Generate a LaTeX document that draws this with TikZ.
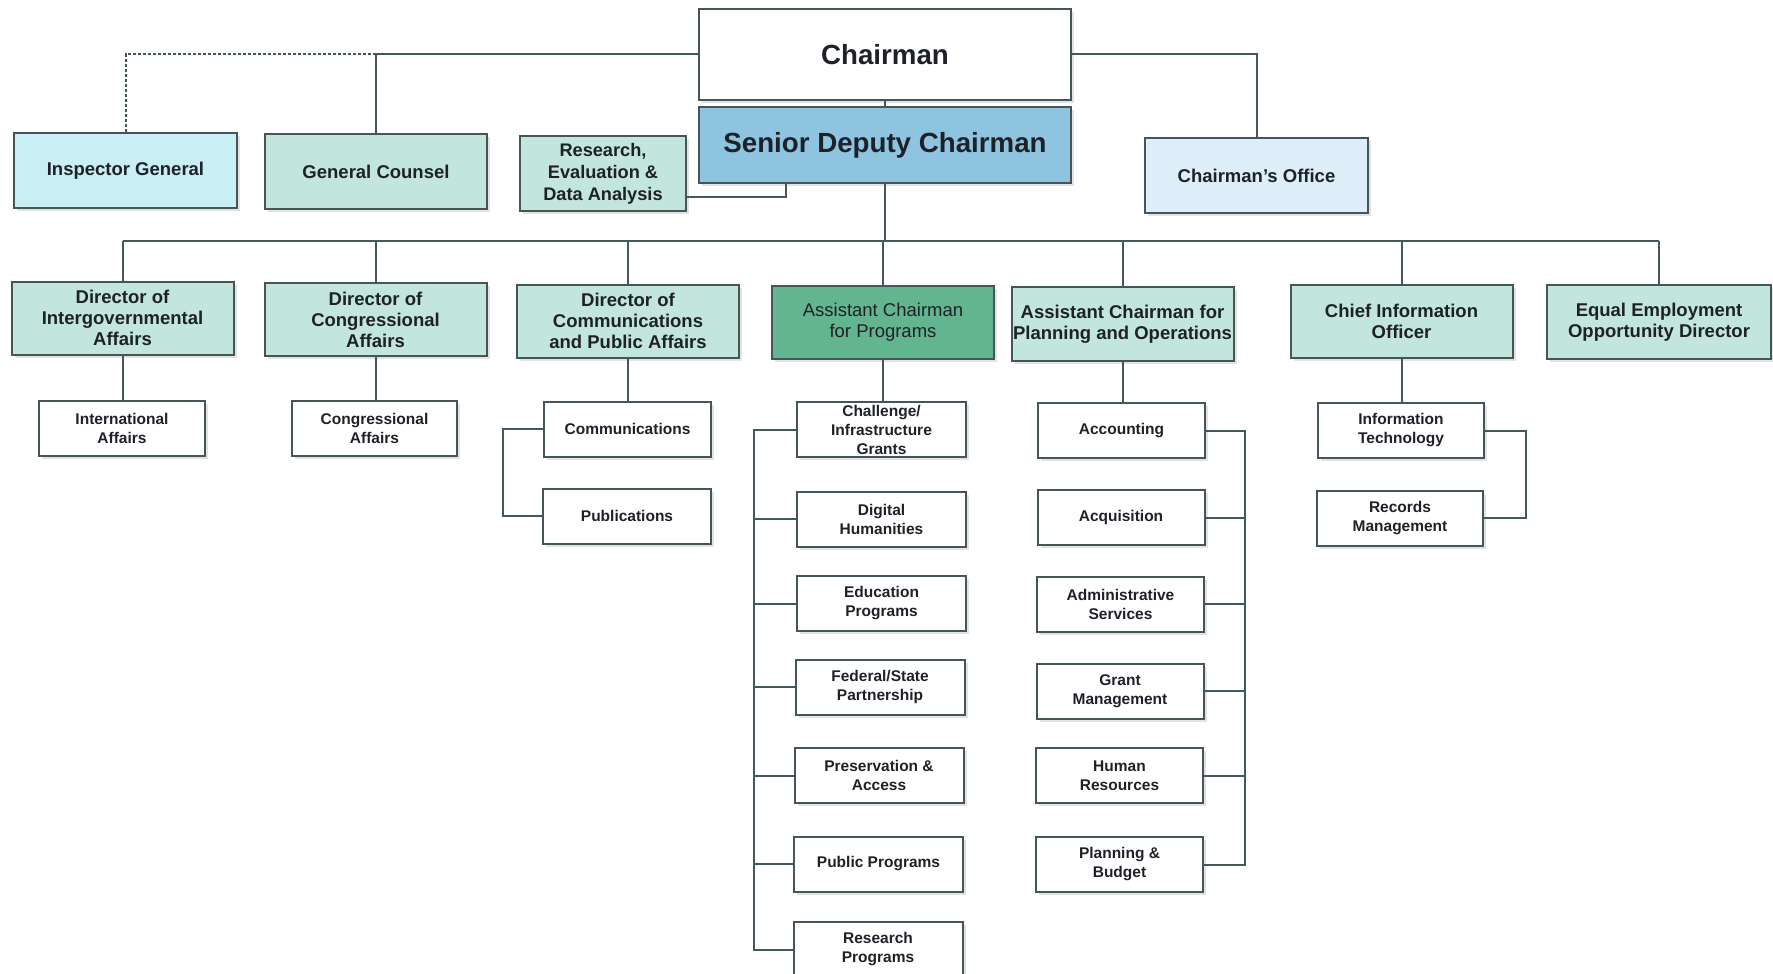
\documentclass[tikz,border=0pt]{standalone}
\usepackage{fontspec}
\setmainfont{Liberation Sans}
\usetikzlibrary{shadows,calc}
\definecolor{lnc}{HTML}{42595A}
\definecolor{bdc}{HTML}{45555A}
\definecolor{txc}{HTML}{1E2228}
\definecolor{sdcblue}{HTML}{8EC4E0}
\definecolor{igcyan}{HTML}{C9EEF4}
\definecolor{tealbox}{HTML}{C2E6DC}
\definecolor{cofill}{HTML}{DDEEF8}
\definecolor{progreen}{HTML}{62B58E}
\tikzset{
  box/.style={draw=bdc, line width=1pt, inner sep=0pt, align=center, text=txc,
    drop shadow={shadow xshift=1.5pt, shadow yshift=-1.5pt, opacity=0.22, fill=gray}},
  topbox/.style={box, font=\fontsize{13.85pt}{16pt}\selectfont\bfseries},
  midbox/.style={box, font=\fontsize{9.25pt}{10.5pt}\selectfont\bfseries},
  smallbox/.style={box, fill=white, font=\fontsize{7.75pt}{9.5pt}\selectfont\bfseries,
    minimum height=27.5pt},
  lvltwo/.style={midbox, fill=tealbox, minimum width=111pt, minimum height=36.5pt},
  conn/.style={draw=lnc, line width=1pt},
}
\begin{document}
\begin{tikzpicture}[x=0.5pt, y=-0.5pt]
\useasboundingbox[fill=white] (0,0) rectangle (1773,974);

% top level
\node[topbox, fill=white, minimum width=186pt, minimum height=45.5pt] (chair) at (885,54.5) {Chairman};
\node[topbox, fill=sdcblue, minimum width=186pt, minimum height=38pt] (sdc) at (885,145) {\raisebox{-1.5pt}{Senior Deputy Chairman}};
\node[midbox, fill=igcyan, minimum width=111.5pt, minimum height=37.5pt] (ig) at (125.5,170.5) {Inspector General};
\node[midbox, fill=tealbox, minimum width=111pt, minimum height=37.5pt] (gc) at (376,171.5) {General Counsel};
\node[midbox, fill=tealbox, minimum width=83pt, minimum height=37pt, font=\fontsize{9.1pt}{11pt}\selectfont\bfseries] (res) at (603,173.5) {Research,\\Evaluation \&\\Data Analysis};
\node[midbox, fill=cofill, minimum width=111.5pt, minimum height=37.5pt] (co) at (1256.5,175.5) {Chairman’s Office};

% level two
\node[lvltwo] (dia) at (122.5,318) {Director of\\Intergovernmental\\Affairs};
\node[lvltwo] (dca) at (375.5,319.5) {Director of\\Congressional\\Affairs};
\node[lvltwo] (dcpa) at (628,321) {Director of\\Communications\\and Public Affairs};
\node[lvltwo, fill=progreen, font=\fontsize{9.25pt}{10.5pt}\selectfont] (acp) at (883,322) {Assistant Chairman\\for Programs};
\node[lvltwo, minimum height=37pt] (acpo) at (1122.5,324) {Assistant Chairman for\\Planning and Operations};
\node[lvltwo] (cio) at (1401.5,321.5) {Chief Information\\Officer};
\node[lvltwo, minimum width=112pt, minimum height=37pt] (eeo) at (1659,322) {Equal Employment\\Opportunity Director};

% level three
\node[smallbox, minimum width=83pt] (ia) at (122,428) {International\\Affairs};
\node[smallbox, minimum width=82.5pt] (ca) at (374.5,428.5) {Congressional\\Affairs};
\node[smallbox, minimum width=83.5pt] (comm) at (627.5,429) {Communications};
\node[smallbox, minimum width=84pt] (pub) at (627,516) {Publications};

\begin{scope}[every node/.style={smallbox, minimum width=84.5pt}]
\node (chal) at (881.5,429.5) {Challenge/\\Infrastructure\\Grants};
\node (dh) at (881.5,519) {Digital\\Humanities};
\node (edu) at (881.5,603.5) {Education\\Programs};
\node (fs) at (880,687) {Federal/State\\Partnership};
\node (pa) at (879,775.5) {Preservation \&\\Access};
\node (pp) at (878.5,864) {Public Programs};
\node (rp) at (878,949.5) {Research\\Programs};
\end{scope}

\begin{scope}[every node/.style={smallbox, minimum width=83.5pt}]
\node (acc) at (1121.5,430.5) {Accounting};
\node (acq) at (1121,517.5) {Acquisition};
\node (adm) at (1120.5,604) {Administrative\\Services};
\node (gm) at (1120,691) {Grant\\Management};
\node (hr) at (1119.5,775.5) {Human\\Resources};
\node (pbud) at (1119.5,864.5) {Planning \&\\Budget};
\end{scope}

\node[smallbox, minimum width=83pt] (it) at (1401,430.5) {Information\\Technology};
\node[smallbox, minimum width=83pt] (rm) at (1400,518) {Records\\Management};

% connectors: top
\coordinate (bus) at (0,241);
\coordinate (cbx) at (503,0);
\coordinate (pbx) at (754,0);
\coordinate (obx) at (1245,0);
\coordinate (ibx) at (1526,0);

\draw[conn] (chair.west) -| (gc.north);
\draw[conn, dash pattern=on 1.5pt off 1pt] (gc.north |- chair.west) -| (ig.north);
\draw[conn] (chair.east) -| (co.north);
\draw[conn] (chair.south) -- (sdc.north);
\draw[conn] ($(res.east)+(0,23)$) -| ([xshift=-49.5pt]sdc.south);
\draw[conn] (sdc.south) -- (sdc.south |- bus);
\draw[conn] (dia.north |- bus) -- (eeo.north |- bus);
\foreach \n in {dia,dca,dcpa,acp,acpo,cio,eeo}
  \draw[conn] (\n.north) -- (\n.north |- bus);

% level two to three
\draw[conn] (dia.south) -- (dia.south |- ia.north);
\draw[conn] (dca.south) -- (dca.south |- ca.north);
\draw[conn] (dcpa.south) -- (dcpa.south |- comm.north);
\draw[conn] (acp.south) -- (acp.south |- chal.north);
\draw[conn] (acpo.south) -- (acpo.south |- acc.north);
\draw[conn] (cio.south) -- (cio.south |- it.north);

% brackets
\draw[conn] (comm.west) -| (cbx |- pub.west) -- (pub.west);
\draw[conn] (chal.west) -| (pbx |- rp.west) -- (rp.west);
\foreach \n in {dh,edu,fs,pa,pp}
  \draw[conn] (\n.west) -- (\n.west -| pbx);
\draw[conn] (acc.east) -| (obx |- pbud.east) -- (pbud.east);
\foreach \n in {acq,adm,gm,hr}
  \draw[conn] (\n.east) -- (\n.east -| obx);
\draw[conn] (it.east) -| (ibx |- rm.east) -- (rm.east);
\end{tikzpicture}
\end{document}
